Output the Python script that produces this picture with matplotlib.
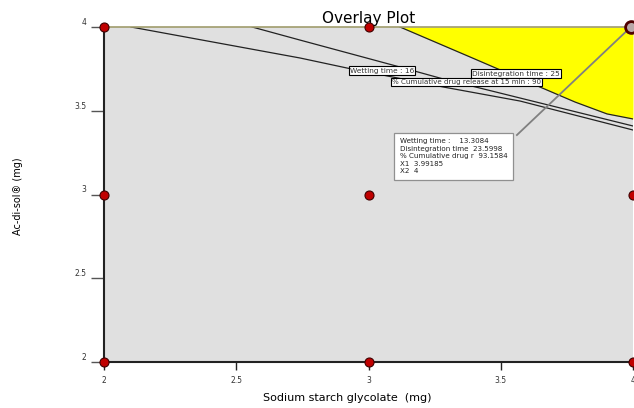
import matplotlib.pyplot as plt

# design points
pts_x1 = [2, 2, 2, 3, 3, 3, 4, 4, 4]
pts_x2 = [2, 3, 4, 2, 3, 4, 2, 3, 4]

# contour lines (X1, X2)
wet_x = [2.102, 2.741, 2.919, 3.282, 3.573, 4.0]
wet_y = [4.0, 3.815, 3.755, 3.642, 3.558, 3.385]
cdr_x = [2.560, 2.741, 3.119, 3.282, 3.573, 4.0]
cdr_y = [4.0, 3.922, 3.761, 3.690, 3.576, 3.409]
dis_x = [3.119, 3.384, 3.630, 3.781, 3.902, 4.0]
dis_y = [4.0, 3.821, 3.654, 3.552, 3.481, 3.451]

# flag
flag_x1 = 3.99185
flag_x2 = 4
flag_wet = 13.3084
flag_dis = 23.5998
flag_cdr = 93.1584

fig = plt.figure(figsize=(6.34, 4.08), dpi=100)
ax = fig.add_axes([104/634, 1-362/408, 529/634, 335/408])
ax.set_facecolor('#e0e0e0')
ax.set_xlim(2, 4)
ax.set_ylim(2, 4)

ax.fill_between(dis_x, dis_y, 4, color='#ffff00', lw=0)

ax.plot(wet_x, wet_y, color='#222222', lw=0.9)
ax.plot(cdr_x, cdr_y, color='#222222', lw=0.9)
ax.plot(dis_x, dis_y, color='#222222', lw=0.9)

lbl_box = dict(boxstyle='square,pad=0.15', fc='white', ec='black', lw=0.8)
ax.text(3.051, 3.740, 'Wetting time : 16', fontsize=5.3, ha='center', va='center',
        color='#333333', bbox=lbl_box)
ax.text(3.558, 3.722, 'Disintegration time : 25', fontsize=5.3, ha='center', va='center',
        color='#333333', bbox=lbl_box)
ax.text(3.372, 3.672, '% Cumulative drug release at 15 min : 90', fontsize=5.1,
        ha='center', va='center', color='#333333', bbox=lbl_box)

# flag pointer and box
ax.plot([flag_x1, 3.561], [flag_x2, 3.355], color='#808080', lw=1.3)
flag_txt = ('Wetting time :    %g\nDisintegration time  %g\n%% Cumulative drug r  %g\n'
            'X1  %g\nX2  %g' % (flag_wet, flag_dis, flag_cdr, flag_x1, flag_x2))
ax.text(3.118, 3.336, flag_txt, fontsize=5.1, ha='left', va='top', color='#222222',
        linespacing=1.3,
        bbox=dict(boxstyle='square,pad=0.75', fc='white', ec='#909090', lw=0.9))

ax.plot(pts_x1, pts_x2, 'o', ms=6.5, mfc='#c00000', mec='#400000', mew=0.8,
        clip_on=False, zorder=5)
ax.plot([flag_x1], [flag_x2], 'o', ms=8.5, mfc='#b8a8a8', mec='#500000', mew=2,
        clip_on=False, zorder=6)

ticks = [2, 2.5, 3, 3.5, 4]
ax.set_xticks(ticks)
ax.set_yticks(ticks)
ax.set_xticklabels(['2', '2.5', '3', '3.5', '4'])
ax.set_yticklabels(['2', '2.5', '3', '3.5', '4'])
ax.tick_params(axis='x', length=6, width=1, color='#222222', labelsize=5.5,
               labelcolor='#333333', pad=4)
ax.tick_params(axis='y', length=9.5, width=1, color='#555555', labelsize=5.5,
               labelcolor='#333333', pad=3)
for t in ax.get_yticklabels():
    t.set_va('bottom')

ax.spines['right'].set_visible(False)
ax.spines['top'].set_color('#a09c6c')
ax.spines['top'].set_linewidth(1.2)
ax.spines['left'].set_color('#222222')
ax.spines['left'].set_linewidth(1.5)
ax.spines['bottom'].set_color('#222222')
ax.spines['bottom'].set_linewidth(1.5)

ax.set_title('Overlay Plot', fontsize=11, pad=3)
fig.text(347/634, 1-398/408, 'Sodium starch glycolate  (mg)', fontsize=8,
         ha='center', va='center')
fig.text(18/634, 1-196/408, 'Ac-di-sol\u00ae (mg)', fontsize=7, rotation=90,
         ha='center', va='center', family=['Liberation Sans Narrow', 'DejaVu Sans'])

plt.savefig('out.png', dpi=100)
